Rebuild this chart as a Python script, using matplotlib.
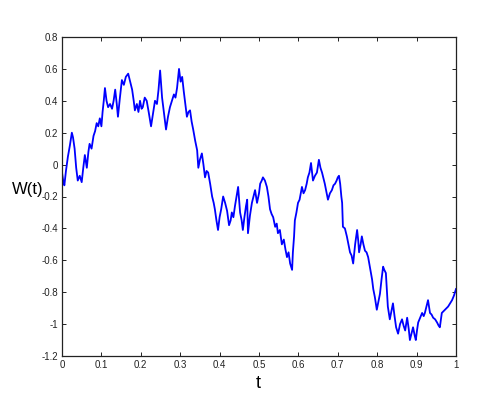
import matplotlib
matplotlib.use("Agg")
import matplotlib.pyplot as plt

t_vals = [
    0, .003, .006, .01, .015, .02, .025, .028, .032, .036,
    .04, .045, .05, .054, .058, .063, .067, .07, .075, .08,
    .084, .088, .092, .096, .1, .103, .106, .109, .113, .117,
    .122, .127, .131, .135, .139, .142, .147, .152, .157, .162,
    .168, .173, .178, .182, .185, .19, .194, .198, .202, .205,
    .21, .215, .22, .226, .231, .236, .241, .245, .249, .254,
    .259, .264, .269, .274, .279, .284, .288, .292, .297, .301,
    .305, .309, .313, .317, .321, .325, .329, .333, .338, .343,
    .346, .35, .355, .359, .363, .367, .371, .376, .381, .385,
    .388, .392, .396, .4, .404, .409, .414, .419, .424, .428,
    .431, .435, .439, .443, .447, .452, .456, .459, .463, .467,
    .47, .472, .477, .482, .486, .49, .495, .5, .503, .507,
    .51, .515, .52, .524, .528, .532, .536, .541, .545, .548,
    .553, .558, .563, .567, .571, .575, .579, .584, .586, .589,
    .591, .595, .599, .603, .609, .613, .617, .621, .624, .628,
    .632, .637, .642, .647, .652, .656, .66, .664, .667, .671,
    .675, .68, .685, .689, .693, .697, .70, .703, .706, .709,
    .711, .713, .718, .723, .727, .731, .735, .739, .744, .749,
    .752, .754, .758, .761, .765, .769, .773, .777, .782, .787,
    .79, .794, .799, .803, .807, .811, .815, .818, .822, .825,
    .827, .832, .836, .84, .844, .848, .853, .858, .863, .867,
    .871, .876, .88, .883, .887, .891, .895, .898, .901, .904,
    .909, .914, .918, .921, .925, .929, .934, .938, .942, .947,
    .952, .956, .959, .964, .968, .972, .976, .98, .985, .99,
    .995, 1.0,
]

w_vals = [
    -0.05, -0.10, -0.13, -0.04, 0.05, 0.12, 0.20, 0.17, 0.10, -0.02,
    -0.10, -0.07, -0.11, -0.02, 0.06, -0.02, 0.08, 0.13, 0.10, 0.18,
    0.21, 0.26, 0.24, 0.29, 0.24, 0.33, 0.40, 0.48, 0.40, 0.36,
    0.38, 0.35, 0.40, 0.47, 0.38, 0.30, 0.42, 0.53, 0.50, 0.55,
    0.57, 0.52, 0.47, 0.40, 0.34, 0.38, 0.33, 0.40, 0.35, 0.36,
    0.42, 0.40, 0.33, 0.24, 0.32, 0.40, 0.38, 0.47, 0.59, 0.42,
    0.32, 0.22, 0.30, 0.36, 0.40, 0.44, 0.42, 0.48, 0.60, 0.52,
    0.55, 0.46, 0.38, 0.30, 0.33, 0.34, 0.27, 0.22, 0.15, 0.09,
    -0.02, 0.03, 0.07, 0.00, -0.08, -0.04, -0.05, -0.12, -0.20, -0.24,
    -0.28, -0.35, -0.41, -0.33, -0.28, -0.20, -0.24, -0.29, -0.38, -0.35,
    -0.30, -0.33, -0.26, -0.20, -0.14, -0.30, -0.35, -0.41, -0.33, -0.26,
    -0.22, -0.43, -0.32, -0.24, -0.20, -0.16, -0.24, -0.18, -0.12, -0.10,
    -0.08, -0.10, -0.14, -0.20, -0.28, -0.31, -0.33, -0.39, -0.37, -0.43,
    -0.41, -0.50, -0.47, -0.53, -0.58, -0.55, -0.62, -0.66, -0.55, -0.45,
    -0.35, -0.30, -0.24, -0.22, -0.14, -0.18, -0.16, -0.12, -0.08, -0.05,
    0.01, -0.10, -0.07, -0.05, 0.03, -0.02, -0.05, -0.09, -0.12, -0.17,
    -0.22, -0.18, -0.16, -0.13, -0.12, -0.10, -0.08, -0.07, -0.12, -0.20,
    -0.24, -0.39, -0.40, -0.45, -0.50, -0.55, -0.57, -0.62, -0.50, -0.41,
    -0.48, -0.55, -0.50, -0.45, -0.50, -0.54, -0.55, -0.58, -0.65, -0.72,
    -0.78, -0.83, -0.91, -0.86, -0.81, -0.72, -0.64, -0.66, -0.68, -0.80,
    -0.89, -0.97, -0.92, -0.87, -0.95, -1.02, -1.06, -1.00, -0.97, -1.01,
    -1.04, -0.96, -1.03, -1.10, -1.06, -1.02, -1.07, -1.10, -1.04, -0.99,
    -0.96, -0.93, -0.95, -0.93, -0.89, -0.85, -0.93, -0.94, -0.96, -0.97,
    -0.99, -1.01, -1.02, -0.93, -0.92, -0.91, -0.90, -0.89, -0.87, -0.85,
    -0.82, -0.78,
]

x_ticks = [0, 0.1, 0.2, 0.3, 0.4, 0.5, 0.6, 0.7, 0.8, 0.9, 1]
x_labels = ["0", "0.1", "0.2", "0.3", "0.4", "0.5", "0.6", "0.7", "0.8", "0.9", "1"]
y_ticks = [-1.2, -1.0, -0.8, -0.6, -0.4, -0.2, 0, 0.2, 0.4, 0.6, 0.8]
y_labels = ["-1.2", "-1", "-0.8", "-0.6", "-0.4", "-0.2", "0", "0.2", "0.4", "0.6", "0.8"]

assert len(t_vals) == len(w_vals)

plt.rcParams['font.family'] = ['Liberation Sans', 'DejaVu Sans']

fig = plt.figure(figsize=(4.92, 4.01), dpi=100)
ax = fig.add_axes([62/492, 1-356/401, (456-62)/492, (356-37)/401])

ax.plot(t_vals, w_vals, color='#0000ff', linewidth=1.3)

ax.set_xlim(0, 1)
ax.set_ylim(-1.2, 0.8)
ax.set_xticks(x_ticks)
ax.set_xticklabels(x_labels)
ax.set_yticks(y_ticks)
ax.set_yticklabels(y_labels)
ax.tick_params(direction='in', length=3, width=0.7, labelsize=7, colors='#222222',
               top=True, right=True, pad=3)
for s in ax.spines.values():
    s.set_linewidth(0.9)
    s.set_color('#222222')

fig.text(258/492, 1-383/401, 't', ha='center', va='center', fontsize=13)
fig.text(12/492, 1-189/401, 'W(t)', ha='left', va='center', fontsize=12)

fig.savefig('out.png', dpi=100)
